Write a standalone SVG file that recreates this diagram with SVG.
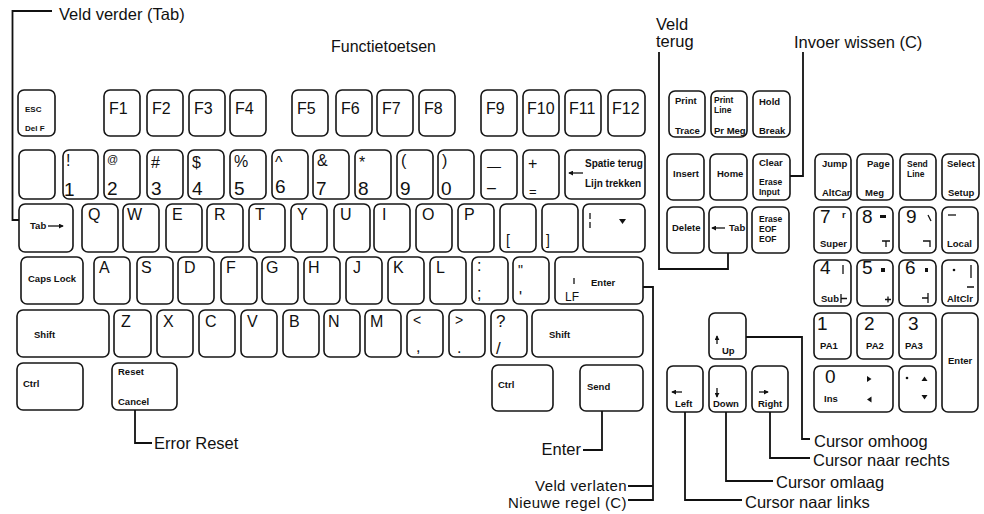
<svg xmlns="http://www.w3.org/2000/svg" width="984" height="514" viewBox="0 0 984 514">
<defs>
<style>
.k{fill:#fff;stroke:#161616;stroke-width:1.6}
.t{font-family:'Liberation Sans',Arial,sans-serif;font-size:16px;fill:#111}
.d{font-size:19px}
.s{font-family:'Liberation Sans',Arial,sans-serif;font-size:9.5px;font-weight:bold;fill:#111}
.s2{font-size:8.5px}
.lb{font-family:'Liberation Sans',Arial,sans-serif;font-size:16.5px;fill:#111}
.lb2{font-size:15px;letter-spacing:0.4px}
.cn{fill:none;stroke:#111;stroke-width:1.8}
.ln{fill:none;stroke:#111;stroke-width:1.3}
.f{fill:#111}
.end{text-anchor:end}
</style>
<marker id="ah" viewBox="0 0 6 6" refX="5" refY="3" markerWidth="5" markerHeight="5" markerUnits="userSpaceOnUse" orient="auto"><path d="M0,0 L6,3 L0,6 Z" fill="#111"/></marker>
</defs>
<rect width="984" height="514" fill="#fff"/>

<!-- Function row -->
<g id="key-esc"><rect class="k" x="18" y="90" width="37" height="46" rx="6"/><text class="s" x="25" y="112" style="font-size:8px">ESC</text><text class="s" x="25" y="131" style="font-size:8px">Del F</text></g>
<g id="key-f1"><rect class="k" x="104" y="90" width="36" height="46" rx="6"/><text class="t" x="109" y="114">F1</text></g>
<g id="key-f2"><rect class="k" x="147" y="90" width="36" height="46" rx="6"/><text class="t" x="152" y="114">F2</text></g>
<g id="key-f3"><rect class="k" x="189" y="90" width="36" height="46" rx="6"/><text class="t" x="194" y="114">F3</text></g>
<g id="key-f4"><rect class="k" x="230" y="90" width="36" height="46" rx="6"/><text class="t" x="235" y="114">F4</text></g>
<g id="key-f5"><rect class="k" x="292" y="90" width="36" height="46" rx="6"/><text class="t" x="297" y="114">F5</text></g>
<g id="key-f6"><rect class="k" x="336" y="90" width="36" height="46" rx="6"/><text class="t" x="341" y="114">F6</text></g>
<g id="key-f7"><rect class="k" x="377" y="90" width="36" height="46" rx="6"/><text class="t" x="382" y="114">F7</text></g>
<g id="key-f8"><rect class="k" x="419" y="90" width="36" height="46" rx="6"/><text class="t" x="424" y="114">F8</text></g>
<g id="key-f9"><rect class="k" x="481" y="90" width="36" height="46" rx="6"/><text class="t" x="486" y="114">F9</text></g>
<g id="key-f10"><rect class="k" x="523" y="90" width="36" height="46" rx="6"/><text class="t" x="527" y="114">F10</text></g>
<g id="key-f11"><rect class="k" x="565" y="90" width="36" height="46" rx="6"/><text class="t" x="569" y="114">F11</text></g>
<g id="key-f12"><rect class="k" x="608" y="90" width="37" height="46" rx="6"/><text class="t" x="612" y="114">F12</text></g>

<!-- Number row -->
<g id="key-blank"><rect class="k" x="19" y="150" width="36" height="49" rx="6"/></g>
<g id="key-1"><rect class="k" x="63" y="150" width="35" height="49" rx="6"/><text class="t" x="66" y="166">!</text><text class="t d" x="64" y="196">1</text></g>
<g id="key-2"><rect class="k" x="104" y="150" width="36" height="49" rx="6"/><text class="t" x="107" y="163" style="font-size:11px">@</text><text class="t d" x="107" y="195">2</text></g>
<g id="key-3"><rect class="k" x="147" y="150" width="36" height="49" rx="6"/><text class="t" x="151" y="168">#</text><text class="t d" x="151" y="195">3</text></g>
<g id="key-4"><rect class="k" x="188" y="150" width="36" height="49" rx="6"/><text class="t" x="192" y="168">$</text><text class="t d" x="192" y="195">4</text></g>
<g id="key-5"><rect class="k" x="230" y="150" width="36" height="49" rx="6"/><text class="t" x="234" y="167">%</text><text class="t d" x="234" y="195">5</text></g>
<g id="key-6"><rect class="k" x="272" y="150" width="36" height="49" rx="6"/><text class="t" x="275" y="168">^</text><text class="t d" x="275" y="193">6</text></g>
<g id="key-7"><rect class="k" x="313" y="150" width="36" height="49" rx="6"/><text class="t" x="317" y="166">&amp;</text><text class="t d" x="316" y="195">7</text></g>
<g id="key-8"><rect class="k" x="355" y="150" width="36" height="49" rx="6"/><text class="t" x="359" y="168">*</text><text class="t d" x="358" y="195">8</text></g>
<g id="key-9"><rect class="k" x="397" y="150" width="36" height="49" rx="6"/><text class="t" x="401" y="166">(</text><text class="t d" x="400" y="195">9</text></g>
<g id="key-0"><rect class="k" x="438" y="150" width="36" height="49" rx="6"/><text class="t" x="442" y="166">)</text><text class="t d" x="441" y="195">0</text></g>
<g id="key-minus"><rect class="k" x="481" y="150" width="36" height="49" rx="6"/><text class="t" x="487" y="171" style="font-size:14px">—</text><text class="t" x="487" y="193">–</text></g>
<g id="key-plus"><rect class="k" x="523" y="150" width="36" height="49" rx="6"/><text class="t" x="528" y="169">+</text><text class="t" x="529" y="196" style="font-size:13px">=</text></g>
<g id="key-backspace"><rect class="k" x="565" y="150" width="80" height="49" rx="6"/><path class="ln" d="M583,173 H569" marker-end="url(#ah)"/><text class="s" x="585" y="167" style="font-size:10px">Spatie terug</text><text class="s" x="585" y="187" style="font-size:10px">Lijn trekken</text></g>

<!-- Tab row -->
<g id="key-tab"><rect class="k" x="19" y="204" width="54" height="48" rx="6"/><text class="s" x="30" y="229">Tab</text><path class="ln" d="M48,226 H63" marker-end="url(#ah)"/></g>
<g id="key-q"><rect class="k" x="82" y="204" width="36" height="48" rx="6"/><text class="t" x="88" y="220">Q</text></g>
<g id="key-w"><rect class="k" x="123" y="204" width="36" height="48" rx="6"/><text class="t" x="127" y="220">W</text></g>
<g id="key-e"><rect class="k" x="166" y="204" width="36" height="48" rx="6"/><text class="t" x="172" y="220">E</text></g>
<g id="key-r"><rect class="k" x="207" y="204" width="36" height="48" rx="6"/><text class="t" x="214" y="220">R</text></g>
<g id="key-t"><rect class="k" x="249" y="204" width="36" height="48" rx="6"/><text class="t" x="255" y="220">T</text></g>
<g id="key-y"><rect class="k" x="291" y="204" width="36" height="48" rx="6"/><text class="t" x="297" y="220">Y</text></g>
<g id="key-u"><rect class="k" x="334" y="204" width="36" height="48" rx="6"/><text class="t" x="340" y="220">U</text></g>
<g id="key-i"><rect class="k" x="374" y="204" width="36" height="48" rx="6"/><text class="t" x="382" y="220">I</text></g>
<g id="key-o"><rect class="k" x="416" y="204" width="36" height="48" rx="6"/><text class="t" x="422" y="220">O</text></g>
<g id="key-p"><rect class="k" x="458" y="204" width="36" height="48" rx="6"/><text class="t" x="464" y="220">P</text></g>
<g id="key-lbracket"><rect class="k" x="500" y="204" width="36" height="48" rx="6"/><text class="t" x="506" y="245" style="font-size:14px">[</text></g>
<g id="key-rbracket"><rect class="k" x="542" y="204" width="36" height="48" rx="6"/><text class="t" x="546" y="245" style="font-size:14px">]</text></g>
<g id="key-bar"><rect class="k" x="583" y="204" width="62" height="48" rx="6"/><path class="ln" d="M590,213 V219 M590,222 V228"/><path class="f" d="M619,219 L626,219 L622.5,224 Z"/></g>

<!-- Home row -->
<g id="key-capslock"><rect class="k" x="21" y="257" width="62" height="47" rx="6"/><text class="s" x="28" y="282">Caps Lock</text></g>
<g id="key-a"><rect class="k" x="94" y="257" width="36" height="47" rx="6"/><text class="t" x="99" y="273">A</text></g>
<g id="key-s"><rect class="k" x="137" y="257" width="36" height="47" rx="6"/><text class="t" x="141" y="273">S</text></g>
<g id="key-d"><rect class="k" x="178" y="257" width="36" height="47" rx="6"/><text class="t" x="184" y="273">D</text></g>
<g id="key-f"><rect class="k" x="221" y="257" width="36" height="47" rx="6"/><text class="t" x="226" y="273">F</text></g>
<g id="key-g"><rect class="k" x="262" y="257" width="36" height="47" rx="6"/><text class="t" x="266" y="273">G</text></g>
<g id="key-h"><rect class="k" x="304" y="257" width="36" height="47" rx="6"/><text class="t" x="308" y="273">H</text></g>
<g id="key-j"><rect class="k" x="346" y="257" width="36" height="47" rx="6"/><text class="t" x="353" y="273">J</text></g>
<g id="key-k"><rect class="k" x="388" y="257" width="36" height="47" rx="6"/><text class="t" x="393" y="273">K</text></g>
<g id="key-l"><rect class="k" x="430" y="257" width="36" height="47" rx="6"/><text class="t" x="436" y="273">L</text></g>
<g id="key-semicolon"><rect class="k" x="472" y="257" width="36" height="47" rx="6"/><text class="t" x="477" y="271">:</text><text class="t" x="477" y="299">;</text></g>
<g id="key-quote"><rect class="k" x="513" y="257" width="36" height="47" rx="6"/><text class="t" x="518" y="275" style="font-size:14px">"</text><text class="t" x="519" y="303">'</text></g>
<g id="key-enter"><rect class="k" x="555" y="257" width="88" height="47" rx="6"/><path class="ln" d="M574,278 V284"/><text class="s" x="591" y="286">Enter</text><text class="t" x="565" y="301" style="font-size:12px">LF</text></g>

<!-- Shift row -->
<g id="key-shift-left"><rect class="k" x="17" y="310" width="92" height="47" rx="6"/><text class="s" x="34" y="338">Shift</text></g>
<g id="key-z"><rect class="k" x="114" y="310" width="37" height="47" rx="6"/><text class="t" x="121" y="327">Z</text></g>
<g id="key-x"><rect class="k" x="157" y="310" width="36" height="47" rx="6"/><text class="t" x="163" y="327">X</text></g>
<g id="key-c"><rect class="k" x="199" y="310" width="36" height="47" rx="6"/><text class="t" x="205" y="327">C</text></g>
<g id="key-v"><rect class="k" x="241" y="310" width="36" height="47" rx="6"/><text class="t" x="247" y="327">V</text></g>
<g id="key-b"><rect class="k" x="283" y="310" width="36" height="47" rx="6"/><text class="t" x="289" y="327">B</text></g>
<g id="key-n"><rect class="k" x="324" y="310" width="36" height="47" rx="6"/><text class="t" x="328" y="327">N</text></g>
<g id="key-m"><rect class="k" x="365" y="310" width="36" height="47" rx="6"/><text class="t" x="370" y="327">M</text></g>
<g id="key-comma"><rect class="k" x="407" y="310" width="36" height="47" rx="6"/><text class="t" x="413" y="325" style="font-size:14px">&lt;</text><text class="t" x="416" y="352">,</text></g>
<g id="key-period"><rect class="k" x="449" y="310" width="36" height="47" rx="6"/><text class="t" x="455" y="325" style="font-size:14px">&gt;</text><text class="t" x="457" y="353">.</text></g>
<g id="key-slash"><rect class="k" x="491" y="310" width="36" height="47" rx="6"/><text class="t" x="496" y="327" style="font-size:17px">?</text><text class="t" x="496" y="354" style="font-size:17px">/</text></g>
<g id="key-shift-right"><rect class="k" x="532" y="310" width="111" height="47" rx="6"/><text class="s" x="549" y="338">Shift</text></g>

<!-- Bottom row -->
<g id="key-ctrl-left"><rect class="k" x="17" y="363" width="66" height="47" rx="6"/><text class="s" x="23" y="387">Ctrl</text></g>
<g id="key-reset"><rect class="k" x="112" y="363" width="65" height="47" rx="6"/><text class="s" x="118" y="375">Reset</text><text class="s" x="118" y="405">Cancel</text></g>
<g id="key-ctrl-right"><rect class="k" x="492" y="365" width="61" height="46" rx="6"/><text class="s" x="498" y="388">Ctrl</text></g>
<g id="key-send"><rect class="k" x="580" y="365" width="63" height="46" rx="6"/><text class="s" x="587" y="390">Send</text></g>

<!-- Editing block -->
<g id="key-print"><rect class="k" x="669" y="91" width="36" height="46" rx="6"/><text class="s" x="675" y="104">Print</text><text class="s" x="675" y="134">Trace</text></g>
<g id="key-printline"><rect class="k" x="711" y="91" width="36" height="46" rx="6"/><text class="s s2" x="714" y="103">Print</text><text class="s s2" x="714" y="113">Line</text><text class="s" x="714" y="134">Pr Meg</text></g>
<g id="key-hold"><rect class="k" x="753" y="91" width="37" height="46" rx="6"/><text class="s" x="759" y="105">Hold</text><text class="s" x="759" y="134">Break</text></g>
<g id="key-insert"><rect class="k" x="667" y="154" width="37" height="46" rx="6"/><text class="s" x="673" y="177">Insert</text></g>
<g id="key-home"><rect class="k" x="710" y="154" width="37" height="46" rx="6"/><text class="s" x="717" y="177">Home</text></g>
<g id="key-clear"><rect class="k" x="753" y="154" width="37" height="46" rx="6"/><text class="s" x="759" y="166">Clear</text><text class="s s2" x="759" y="185">Erase</text><text class="s s2" x="759" y="195">Input</text></g>
<g id="key-delete"><rect class="k" x="667" y="207" width="37" height="46" rx="6"/><text class="s" x="672" y="231">Delete</text></g>
<g id="key-backtab"><rect class="k" x="709" y="207" width="38" height="46" rx="6"/><path class="ln" d="M725,228 H712" marker-end="url(#ah)"/><text class="s" x="729" y="231">Tab</text></g>
<g id="key-eraseeof"><rect class="k" x="752" y="207" width="37" height="46" rx="6"/><text class="s s2" x="759" y="222">Erase</text><text class="s s2" x="759" y="232">EOF</text><text class="s s2" x="759" y="242">EOF</text></g>

<!-- Cursor keys -->
<g id="key-up"><rect class="k" x="709" y="313" width="37" height="46" rx="6"/><path class="ln" d="M717,344 V336" marker-end="url(#ah)"/><text class="s" x="722" y="354">Up</text></g>
<g id="key-left"><rect class="k" x="667" y="366" width="36" height="46" rx="6"/><path class="ln" d="M682,392 H672" marker-end="url(#ah)"/><text class="s" x="675" y="407">Left</text></g>
<g id="key-down"><rect class="k" x="709" y="366" width="37" height="46" rx="6"/><path class="ln" d="M717,388 V397" marker-end="url(#ah)"/><text class="s" x="713" y="407">Down</text></g>
<g id="key-right"><rect class="k" x="752" y="366" width="36" height="46" rx="6"/><path class="ln" d="M759,392 H768" marker-end="url(#ah)"/><text class="s" x="758" y="407">Right</text></g>

<!-- Numeric keypad -->
<g id="key-jump"><rect class="k" x="815" y="154" width="36" height="46" rx="6"/><text class="s" x="822" y="167">Jump</text><text class="s" x="822" y="196">AltCar</text></g>
<g id="key-page"><rect class="k" x="857" y="154" width="36" height="46" rx="6"/><text class="s" x="867" y="167">Page</text><text class="s" x="865" y="196">Meg</text></g>
<g id="key-sendline"><rect class="k" x="900" y="154" width="36" height="46" rx="6"/><text class="s s2" x="907" y="167">Send</text><text class="s s2" x="907" y="177">Line</text></g>
<g id="key-select"><rect class="k" x="942" y="154" width="37" height="46" rx="6"/><text class="s" x="947" y="167">Select</text><text class="s" x="948" y="196">Setup</text></g>

<g id="key-kp7"><rect class="k" x="814" y="207" width="37" height="46" rx="6"/><text class="t d" x="820" y="223">7</text><text class="s" x="842" y="218">r</text><text class="s" x="820" y="247">Super</text></g>
<g id="key-kp8"><rect class="k" x="857" y="207" width="36" height="46" rx="6"/><text class="t d" x="862" y="223">8</text><rect class="f" x="880" y="215" width="6" height="3"/><path class="ln" d="M882,241 H890 M886,241 V247"/></g>
<g id="key-kp9"><rect class="k" x="899" y="207" width="37" height="46" rx="6"/><text class="t d" x="906" y="223">9</text><path class="ln" d="M928,215 L931,221"/><path class="ln" d="M923,241 H930 V247"/></g>
<g id="key-kpminus"><rect class="k" x="942" y="207" width="36" height="46" rx="6"/><path class="ln" d="M948,215 H956"/><text class="s" x="947" y="247">Local</text></g>

<g id="key-kp4"><rect class="k" x="814" y="260" width="37" height="46" rx="6"/><text class="t d" x="820" y="274">4</text><path class="ln" d="M843,265 V274"/><text class="s" x="821" y="302">Sub</text><path class="ln" d="M841,294 V303 M841,298.5 H847"/></g>
<g id="key-kp5"><rect class="k" x="857" y="260" width="36" height="46" rx="6"/><text class="t d" x="862" y="274">5</text><rect class="f" x="881" y="268" width="4" height="4"/><path class="ln" d="M885,299.5 H891 M888,296.5 V302.5"/></g>
<g id="key-kp6"><rect class="k" x="899" y="260" width="37" height="46" rx="6"/><text class="t d" x="905" y="274">6</text><rect class="f" x="925" y="268" width="3" height="4"/><path class="ln" d="M922,298 H928 M928,293 V303"/></g>
<g id="key-kpdecimal"><rect class="k" x="942" y="260" width="36" height="46" rx="6"/><circle class="f" cx="954" cy="270" r="1.3"/><path class="ln" d="M971,265 V278 M967,287 H974"/><text class="s" x="947" y="302">AltClr</text></g>

<g id="key-kp1"><rect class="k" x="814" y="313" width="37" height="46" rx="6"/><text class="t d" x="817" y="330">1</text><text class="s" x="820" y="349">PA1</text></g>
<g id="key-kp2"><rect class="k" x="857" y="313" width="36" height="46" rx="6"/><text class="t d" x="864" y="330">2</text><text class="s" x="866" y="349">PA2</text></g>
<g id="key-kp3"><rect class="k" x="899" y="313" width="37" height="46" rx="6"/><text class="t d" x="908" y="330">3</text><text class="s" x="905" y="349">PA3</text></g>
<g id="key-kpenter"><rect class="k" x="942" y="313" width="36" height="99" rx="6"/><text class="s" x="948" y="364">Enter</text></g>

<g id="key-kp0"><rect class="k" x="814" y="366" width="79" height="46" rx="6"/><text class="t d" x="825" y="383">0</text><path class="f" d="M867,376 L871.5,379 L867,382 Z"/><text class="s" x="824" y="402">Ins</text><path class="f" d="M871.5,396.5 L867,399.5 L871.5,402.5 Z"/></g>
<g id="key-kpdot"><rect class="k" x="899" y="366" width="37" height="46" rx="6"/><circle class="f" cx="907" cy="378" r="1.3"/><path class="f" d="M921.5,381 L924.5,376.5 L927.5,381 Z"/><path class="f" d="M921.5,395 L927.5,395 L924.5,399.5 Z"/></g>

<!-- Connectors -->
<g id="connectors">
<path class="cn" d="M52,11 H12.5 V220 H19"/>
<path class="cn" d="M659,52 V269 H728 V253"/>
<path class="cn" d="M803,52 V176 H790"/>
<path class="cn" d="M643,287 H653 V500 H628 M628,486 H653"/>
<path class="cn" d="M602,411 V450 H583"/>
<path class="cn" d="M135,410 V443 H152"/>
<path class="cn" d="M685,412 V500 H742"/>
<path class="cn" d="M726,412 V481 H773"/>
<path class="cn" d="M770,412 V458 H810"/>
<path class="cn" d="M746,337 H802 V439 H810"/>
</g>

<!-- Labels -->
<g id="labels">
<text class="lb" x="59" y="20">Veld verder (Tab)</text>
<text class="lb" x="331" y="52" style="font-size:16px">Functietoetsen</text>
<text class="lb" x="656" y="30">Veld</text>
<text class="lb" x="656" y="47">terug</text>
<text class="lb" x="794" y="48">Invoer wissen (C)</text>
<text class="lb" x="154" y="449">Error Reset</text>
<text class="lb end" x="581" y="455">Enter</text>
<text class="lb lb2 end" x="627" y="491">Veld verlaten</text>
<text class="lb lb2 end" x="627" y="508">Nieuwe regel (C)</text>
<text class="lb" x="814" y="447">Cursor omhoog</text>
<text class="lb" x="813" y="466">Cursor naar rechts</text>
<text class="lb" x="776" y="488">Cursor omlaag</text>
<text class="lb" x="745" y="508">Cursor naar links</text>
</g>
</svg>
